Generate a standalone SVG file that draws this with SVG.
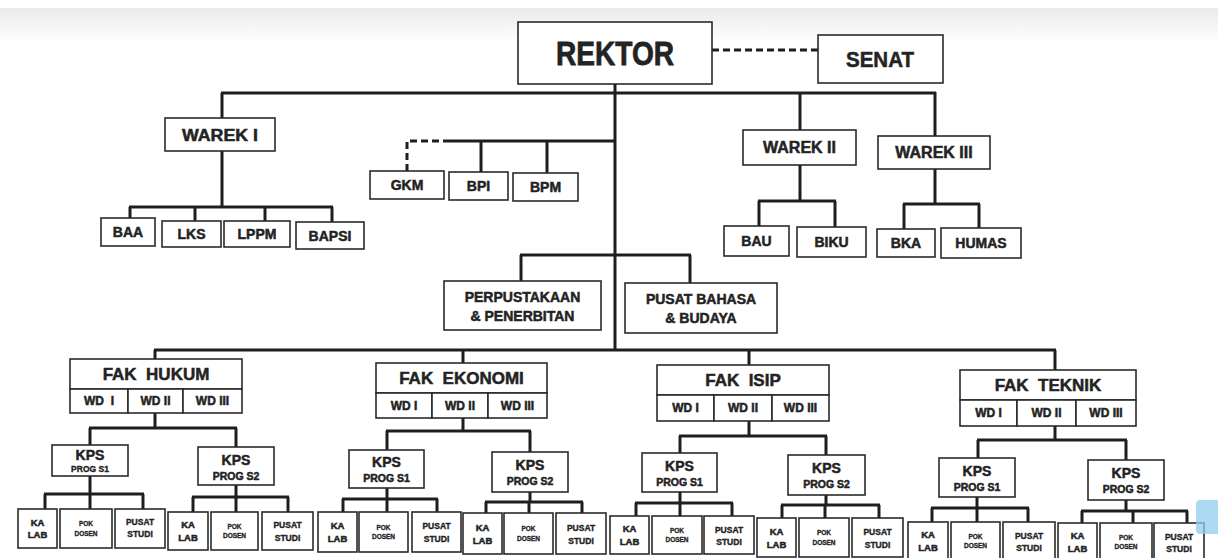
<svg xmlns="http://www.w3.org/2000/svg" width="1218" height="558" viewBox="0 0 1218 558">
<defs>
<linearGradient id="topband" x1="0" y1="0" x2="0" y2="1">
<stop offset="0" stop-color="#e9e9e9"/>
<stop offset="1" stop-color="#ffffff"/>
</linearGradient>
</defs>
<style>
rect.b{fill:#fff;stroke:#2a2a2a;stroke-width:1.6}
.c line,.c polyline{stroke:#1e1e1e;stroke-width:3;fill:none}
.c .d{stroke-dasharray:7 4}
text{font-family:"Liberation Sans",Arial,sans-serif;font-weight:bold;fill:#232323;stroke:#232323;stroke-width:0.5;text-anchor:middle}
.t20{font-size:20px}.t17{font-size:17px}.t16{font-size:16px}.t15{font-size:15px}.t14{font-size:14px}
.t12{font-size:12px}.t11{font-size:10.5px}.t10{font-size:9.5px}.t7{font-size:6.5px;stroke-width:0.3}.t9{font-size:8.5px;stroke-width:0.35}
</style>
<rect x="0" y="0" width="1218" height="558" fill="#fff"/>
<rect x="0" y="8" width="1218" height="34" fill="url(#topband)"/>

<g class="c" id="connectors">
<line class="d" x1="712" y1="50" x2="818" y2="50"/>
<line x1="615" y1="84" x2="615" y2="350"/>
<line x1="221" y1="93" x2="936" y2="93"/>
<line x1="222" y1="93" x2="222" y2="118"/>
<line x1="222" y1="151" x2="222" y2="207"/>
<line x1="129" y1="207" x2="333" y2="207"/>
<line x1="130" y1="207" x2="130" y2="218"/>
<line x1="195" y1="207" x2="195" y2="221"/>
<line x1="265" y1="207" x2="265" y2="221"/>
<line x1="332" y1="207" x2="332" y2="222"/>
<polyline class="d" points="407,171 407,141 450,141"/>
<line x1="450" y1="141" x2="615" y2="141"/>
<line x1="481" y1="141" x2="481" y2="172"/>
<line x1="547" y1="141" x2="547" y2="173"/>
<line x1="800" y1="93" x2="800" y2="130"/>
<line x1="800" y1="165" x2="800" y2="201"/>
<line x1="758" y1="201" x2="836" y2="201"/>
<line x1="759" y1="201" x2="759" y2="226"/>
<line x1="835" y1="201" x2="835" y2="227"/>
<line x1="935" y1="92" x2="935" y2="136"/>
<line x1="935" y1="169" x2="935" y2="204"/>
<line x1="903" y1="204" x2="980" y2="204"/>
<line x1="904" y1="204" x2="904" y2="229"/>
<line x1="979" y1="204" x2="979" y2="228"/>
<line x1="520" y1="255" x2="691" y2="255"/>
<line x1="521" y1="255" x2="521" y2="281"/>
<line x1="690" y1="255" x2="690" y2="283"/>
<line x1="154" y1="350" x2="1056" y2="350"/>
<line x1="155" y1="350" x2="155" y2="359"/>
<line x1="463" y1="350" x2="463" y2="363"/>
<line x1="749" y1="350" x2="749" y2="365"/>
<line x1="1055" y1="350" x2="1055" y2="370"/>
<line x1="155" y1="413" x2="155" y2="428"/>
<line x1="89" y1="428" x2="237" y2="428"/>
<line x1="90" y1="428" x2="90" y2="445"/>
<line x1="236" y1="428" x2="236" y2="447"/>
<line x1="90" y1="476" x2="90" y2="494"/>
<line x1="44" y1="494" x2="144" y2="494"/>
<line x1="45" y1="494" x2="45" y2="509"/>
<line x1="90" y1="494" x2="90" y2="509"/>
<line x1="143" y1="494" x2="143" y2="509"/>
<line x1="236" y1="485" x2="236" y2="497"/>
<line x1="192" y1="497" x2="289" y2="497"/>
<line x1="193" y1="497" x2="193" y2="512"/>
<line x1="236" y1="497" x2="236" y2="512"/>
<line x1="288" y1="497" x2="288" y2="512"/>
<line x1="463" y1="418" x2="463" y2="431"/>
<line x1="386" y1="431" x2="531" y2="431"/>
<line x1="387" y1="431" x2="387" y2="450"/>
<line x1="530" y1="431" x2="530" y2="452"/>
<line x1="387" y1="488" x2="387" y2="499"/>
<line x1="342" y1="499" x2="438" y2="499"/>
<line x1="343" y1="499" x2="343" y2="512"/>
<line x1="387" y1="499" x2="387" y2="512"/>
<line x1="437" y1="499" x2="437" y2="512"/>
<line x1="530" y1="492" x2="530" y2="502"/>
<line x1="485" y1="502" x2="583" y2="502"/>
<line x1="486" y1="502" x2="486" y2="513"/>
<line x1="529" y1="502" x2="529" y2="513"/>
<line x1="582" y1="502" x2="582" y2="513"/>
<line x1="749" y1="421" x2="749" y2="436"/>
<line x1="679" y1="436" x2="827" y2="436"/>
<line x1="680" y1="436" x2="680" y2="453"/>
<line x1="826" y1="436" x2="826" y2="455"/>
<line x1="680" y1="492" x2="680" y2="503"/>
<line x1="635" y1="503" x2="733" y2="503"/>
<line x1="636" y1="503" x2="636" y2="516"/>
<line x1="680" y1="503" x2="680" y2="516"/>
<line x1="732" y1="503" x2="732" y2="516"/>
<line x1="826" y1="495" x2="826" y2="505"/>
<line x1="781" y1="505" x2="880" y2="505"/>
<line x1="782" y1="505" x2="782" y2="518"/>
<line x1="825" y1="505" x2="825" y2="518"/>
<line x1="879" y1="505" x2="879" y2="518"/>
<line x1="1055" y1="426" x2="1055" y2="440"/>
<line x1="977" y1="440" x2="1127" y2="440"/>
<line x1="978" y1="440" x2="978" y2="458"/>
<line x1="1126" y1="440" x2="1126" y2="460"/>
<line x1="977" y1="497" x2="977" y2="508"/>
<line x1="931" y1="508" x2="1029" y2="508"/>
<line x1="932" y1="508" x2="932" y2="522"/>
<line x1="977" y1="508" x2="977" y2="522"/>
<line x1="1028" y1="508" x2="1028" y2="522"/>
<line x1="1126" y1="500" x2="1126" y2="511"/>
<line x1="1081" y1="511" x2="1188" y2="511"/>
<line x1="1082" y1="511" x2="1082" y2="523"/>
<line x1="1133" y1="511" x2="1133" y2="523"/>
<line x1="1187" y1="511" x2="1187" y2="523"/>
</g>

<g id="rektor"><rect class="b" x="518" y="22" width="194" height="62"/><text x="615" y="65" style="font-size:34px;stroke-width:0.8" textLength="118" lengthAdjust="spacingAndGlyphs">REKTOR</text></g>
<g id="senat"><rect class="b" x="818" y="35" width="125" height="48"/><text class="t20" x="880" y="67" style="font-size:22px" textLength="68" lengthAdjust="spacingAndGlyphs">SENAT</text></g>

<g id="warek1"><rect class="b" x="165" y="118" width="110" height="33"/><text class="t16" x="220" y="141" textLength="76" lengthAdjust="spacingAndGlyphs">WAREK I</text></g>
<g id="baa"><rect class="b" x="101" y="218" width="54" height="28"/><text class="t14" x="128" y="237">BAA</text></g>
<g id="lks"><rect class="b" x="162" y="221" width="59" height="26"/><text class="t14" x="191.5" y="239">LKS</text></g>
<g id="lppm"><rect class="b" x="224" y="221" width="66" height="26"/><text class="t14" x="257" y="239">LPPM</text></g>
<g id="bapsi"><rect class="b" x="296" y="222" width="68" height="27"/><text class="t14" x="330" y="241">BAPSI</text></g>

<g id="gkm"><rect class="b" x="370" y="171" width="74" height="28"/><text class="t14" x="407" y="190">GKM</text></g>
<g id="bpi"><rect class="b" x="449" y="172" width="59" height="28"/><text class="t14" x="478.5" y="191">BPI</text></g>
<g id="bpm"><rect class="b" x="513" y="173" width="65" height="28"/><text class="t14" x="545.5" y="192">BPM</text></g>

<g id="warek2"><rect class="b" x="743" y="130" width="113" height="35"/><text class="t16" x="799.5" y="153">WAREK II</text></g>
<g id="bau"><rect class="b" x="724" y="226" width="65" height="30"/><text class="t14" x="756.5" y="246">BAU</text></g>
<g id="biku"><rect class="b" x="797" y="227" width="69" height="30"/><text class="t14" x="831.5" y="247">BIKU</text></g>
<g id="warek3"><rect class="b" x="878" y="136" width="112" height="33"/><text class="t16" x="934" y="158">WAREK III</text></g>
<g id="bka"><rect class="b" x="877" y="229" width="58" height="28"/><text class="t14" x="906" y="248">BKA</text></g>
<g id="humas"><rect class="b" x="941" y="228" width="80" height="30"/><text class="t14" x="981" y="248">HUMAS</text></g>

<g id="perpustakaan"><rect class="b" x="444" y="281" width="157" height="49"/><text class="t14" x="522.5" y="302">PERPUSTAKAAN</text><text class="t14" x="522.5" y="321">&amp; PENERBITAN</text></g>
<g id="pusatbahasa"><rect class="b" x="625" y="283" width="152" height="50"/><text class="t14" x="701" y="304">PUSAT BAHASA</text><text class="t14" x="701" y="323">&amp; BUDAYA</text></g>

<g id="fak-hukum"><rect class="b" x="70" y="359" width="172" height="30"/><text class="t17" x="156" y="380" xml:space="preserve">FAK  HUKUM</text>
<rect class="b" x="70" y="389" width="58" height="24"/><text class="t12" x="99" y="405" xml:space="preserve">WD  I</text>
<rect class="b" x="128" y="389" width="55" height="24"/><text class="t12" x="155.5" y="405">WD II</text>
<rect class="b" x="183" y="389" width="59" height="24"/><text class="t12" x="212.5" y="405">WD III</text></g>
<g id="hukum-kps1"><rect class="b" x="52" y="445" width="76" height="31"/><text class="t14" x="90" y="460">KPS</text><text class="t9" x="90" y="472">PROG S1</text></g>
<g id="hukum-kps2"><rect class="b" x="198" y="447" width="76" height="38"/><text class="t14" x="236" y="465">KPS</text><text class="t11" x="236" y="480">PROG S2</text></g>
<g id="hukum-s1-kalab"><rect class="b" x="18" y="509" width="39" height="39"/><text class="t10" x="37.5" y="526">KA</text><text class="t10" x="37.5" y="538">LAB</text></g>
<g id="hukum-s1-pok"><rect class="b" x="60" y="509" width="52" height="39"/><text class="t7" x="86" y="526">POK</text><text class="t7" x="86" y="536">DOSEN</text></g>
<g id="hukum-s1-pusat"><rect class="b" x="115" y="509" width="50" height="39"/><text class="t9" x="140" y="525">PUSAT</text><text class="t9" x="140" y="537">STUDI</text></g>
<g id="hukum-s2-kalab"><rect class="b" x="168" y="512" width="40" height="38"/><text class="t10" x="188" y="528">KA</text><text class="t10" x="188" y="541">LAB</text></g>
<g id="hukum-s2-pok"><rect class="b" x="211" y="512" width="47" height="38"/><text class="t7" x="234.5" y="529">POK</text><text class="t7" x="234.5" y="538">DOSEN</text></g>
<g id="hukum-s2-pusat"><rect class="b" x="262" y="512" width="51" height="38"/><text class="t9" x="287.5" y="528">PUSAT</text><text class="t9" x="287.5" y="541">STUDI</text></g>

<g id="fak-ekonomi"><rect class="b" x="376" y="363" width="171" height="30"/><text class="t17" x="461.5" y="384" xml:space="preserve">FAK  EKONOMI</text>
<rect class="b" x="376" y="393" width="56" height="25"/><text class="t12" x="404" y="410">WD I</text>
<rect class="b" x="432" y="393" width="56" height="25"/><text class="t12" x="460" y="410">WD II</text>
<rect class="b" x="488" y="393" width="59" height="25"/><text class="t12" x="517.5" y="410">WD III</text></g>
<g id="ekonomi-kps1"><rect class="b" x="349" y="450" width="75" height="38"/><text class="t14" x="386.5" y="467">KPS</text><text class="t11" x="386.5" y="482">PROG S1</text></g>
<g id="ekonomi-kps2"><rect class="b" x="492" y="452" width="76" height="40"/><text class="t14" x="530" y="470">KPS</text><text class="t11" x="530" y="485">PROG S2</text></g>
<g id="ekonomi-s1-kalab"><rect class="b" x="318" y="512" width="39" height="40"/><text class="t10" x="337.5" y="529">KA</text><text class="t10" x="337.5" y="542">LAB</text></g>
<g id="ekonomi-s1-pok"><rect class="b" x="359" y="512" width="49" height="40"/><text class="t7" x="383.5" y="530">POK</text><text class="t7" x="383.5" y="539">DOSEN</text></g>
<g id="ekonomi-s1-pusat"><rect class="b" x="412" y="512" width="49" height="40"/><text class="t9" x="436.5" y="529">PUSAT</text><text class="t9" x="436.5" y="542">STUDI</text></g>
<g id="ekonomi-s2-kalab"><rect class="b" x="463" y="513" width="39" height="41"/><text class="t10" x="482.5" y="531">KA</text><text class="t10" x="482.5" y="544">LAB</text></g>
<g id="ekonomi-s2-pok"><rect class="b" x="504" y="513" width="49" height="41"/><text class="t7" x="528.5" y="531">POK</text><text class="t7" x="528.5" y="541">DOSEN</text></g>
<g id="ekonomi-s2-pusat"><rect class="b" x="556" y="513" width="50" height="41"/><text class="t9" x="581" y="531">PUSAT</text><text class="t9" x="581" y="544">STUDI</text></g>

<g id="fak-isip"><rect class="b" x="657" y="365" width="172" height="30"/><text class="t17" x="743" y="386" xml:space="preserve">FAK  ISIP</text>
<rect class="b" x="657" y="395" width="57" height="26"/><text class="t12" x="685.5" y="412">WD I</text>
<rect class="b" x="714" y="395" width="58" height="26"/><text class="t12" x="743" y="412">WD II</text>
<rect class="b" x="772" y="395" width="57" height="26"/><text class="t12" x="800.5" y="412">WD III</text></g>
<g id="isip-kps1"><rect class="b" x="642" y="453" width="75" height="39"/><text class="t14" x="679.5" y="471">KPS</text><text class="t11" x="679.5" y="486">PROG S1</text></g>
<g id="isip-kps2"><rect class="b" x="788" y="455" width="77" height="40"/><text class="t14" x="826.5" y="473">KPS</text><text class="t11" x="826.5" y="488">PROG S2</text></g>
<g id="isip-s1-kalab"><rect class="b" x="610" y="516" width="39" height="38"/><text class="t10" x="629.5" y="532">KA</text><text class="t10" x="629.5" y="545">LAB</text></g>
<g id="isip-s1-pok"><rect class="b" x="652" y="516" width="50" height="38"/><text class="t7" x="677" y="533">POK</text><text class="t7" x="677" y="542">DOSEN</text></g>
<g id="isip-s1-pusat"><rect class="b" x="704" y="516" width="50" height="38"/><text class="t9" x="729" y="533">PUSAT</text><text class="t9" x="729" y="545">STUDI</text></g>
<g id="isip-s2-kalab"><rect class="b" x="757" y="518" width="39" height="39"/><text class="t10" x="776.5" y="535">KA</text><text class="t10" x="776.5" y="548">LAB</text></g>
<g id="isip-s2-pok"><rect class="b" x="799" y="518" width="50" height="39"/><text class="t7" x="824" y="535">POK</text><text class="t7" x="824" y="545">DOSEN</text></g>
<g id="isip-s2-pusat"><rect class="b" x="852" y="518" width="51" height="39"/><text class="t9" x="877.5" y="535">PUSAT</text><text class="t9" x="877.5" y="548">STUDI</text></g>

<g id="fak-teknik"><rect class="b" x="960" y="370" width="176" height="30"/><text class="t17" x="1048" y="391" xml:space="preserve">FAK  TEKNIK</text>
<rect class="b" x="960" y="400" width="57" height="26"/><text class="t12" x="988.5" y="417">WD I</text>
<rect class="b" x="1017" y="400" width="59" height="26"/><text class="t12" x="1046.5" y="417">WD II</text>
<rect class="b" x="1076" y="400" width="60" height="26"/><text class="t12" x="1106" y="417">WD III</text></g>
<g id="teknik-kps1"><rect class="b" x="939" y="458" width="76" height="39"/><text class="t14" x="977" y="476">KPS</text><text class="t11" x="977" y="491">PROG S1</text></g>
<g id="teknik-kps2"><rect class="b" x="1088" y="460" width="76" height="40"/><text class="t14" x="1126" y="478">KPS</text><text class="t11" x="1126" y="493">PROG S2</text></g>
<g id="teknik-s1-kalab"><rect class="b" x="908" y="522" width="40" height="38"/><text class="t10" x="928" y="538">KA</text><text class="t10" x="928" y="551">LAB</text></g>
<g id="teknik-s1-pok"><rect class="b" x="951" y="522" width="49" height="38"/><text class="t7" x="975.5" y="539">POK</text><text class="t7" x="975.5" y="548">DOSEN</text></g>
<g id="teknik-s1-pusat"><rect class="b" x="1003" y="522" width="52" height="38"/><text class="t9" x="1029" y="539">PUSAT</text><text class="t9" x="1029" y="551">STUDI</text></g>
<g id="teknik-s2-kalab"><rect class="b" x="1058" y="523" width="39" height="38"/><text class="t10" x="1077.5" y="539">KA</text><text class="t10" x="1077.5" y="552">LAB</text></g>
<g id="teknik-s2-pok"><rect class="b" x="1100" y="523" width="52" height="38"/><text class="t7" x="1126" y="540">POK</text><text class="t7" x="1126" y="549">DOSEN</text></g>
<g id="teknik-s2-pusat"><rect class="b" x="1154" y="523" width="50" height="38"/><text class="t9" x="1179" y="540">PUSAT</text><text class="t9" x="1179" y="552">STUDI</text></g>

<rect x="1196" y="500" width="24" height="34" rx="4" fill="#8fcbef" opacity="0.75"/>
</svg>
